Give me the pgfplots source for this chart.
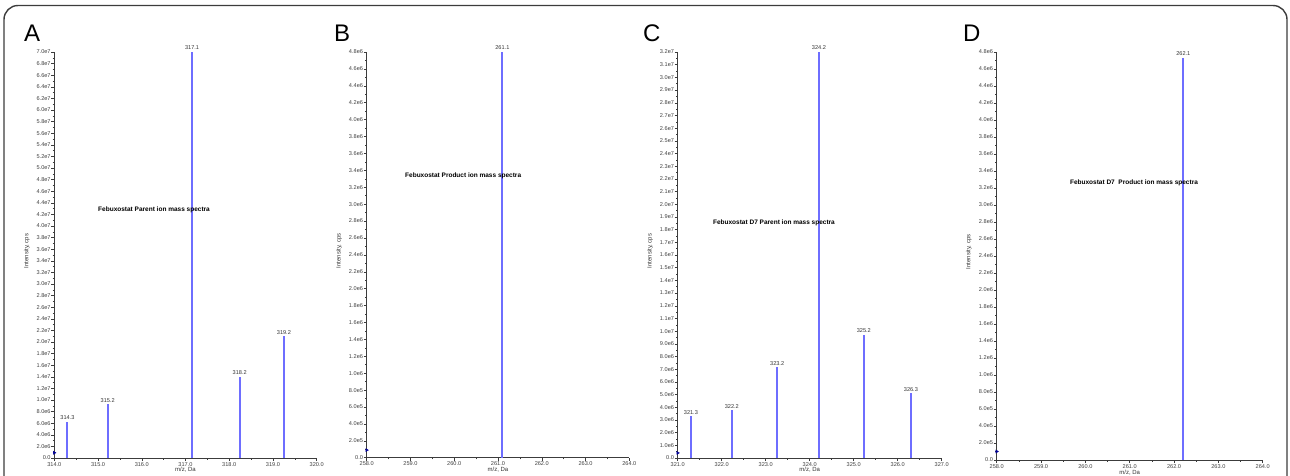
\documentclass[border=0pt]{standalone}
\usepackage{fontspec}
\setmainfont{Liberation Sans}
\usepackage{pgfplots}
\pgfplotsset{compat=1.18}
\definecolor{peak}{RGB}{110,110,255}
\definecolor{axc}{RGB}{60,60,60}
\pgfplotsset{
  ms/.style={
    scale only axis,
    axis lines=left,
    axis line style={-, axc, line width=1pt},
    every tick/.style={axc, line width=0.5pt},
    major tick length=3pt, minor tick length=1.6pt,
    tick align=outside,
    xtick pos=bottom, ytick pos=left,
    minor x tick num=1, minor y tick num=1,
    ymin=0,
    clip=false,
    tick label style={font=\fontsize{5.6}{6}\selectfont, text=black!75},
    yticklabel style={inner sep=0.5pt},
    xticklabel style={inner sep=1pt},
    label style={font=\fontsize{6}{7}\selectfont, text=black!80},
    xlabel={m/z, Da},
    ylabel={Intensity, cps},
    xlabel style={at={(axis description cs:0.5,-0.03)}, anchor=center},
    ylabel style={at={(axis description cs:-0.105,0.51)}, anchor=center},
  },
  pk/.style={ycomb, no marks, color=peak, line width=2pt,
    nodes near coords, point meta=explicit symbolic,
    every node near coord/.append style={font=\fontsize{5.6}{6}\selectfont, text=black!80, inner sep=1pt, anchor=south}},
  mk/.style={only marks, mark=triangle*, mark size=1.7pt,
    mark options={rotate=-90, fill=blue!60!black, draw=blue!60!black}},
}
\tikzset{ttl/.style={anchor=west, font=\fontsize{6.5}{7}\selectfont\bfseries, inner sep=0pt}}
\begin{document}
\begin{tikzpicture}[x=1pt,y=1pt]
\useasboundingbox (0,0) rectangle (1290,475);
\draw[axc, line width=1.4pt, rounded corners=14pt] (4,-40) rectangle (1287,469.5);
\node[anchor=base west, font=\fontsize{24}{24}\selectfont, inner sep=0] at (24,433) {A};
\node[anchor=base west, font=\fontsize{24}{24}\selectfont, inner sep=0] at (334,433) {B};
\node[anchor=base west, font=\fontsize{24}{24}\selectfont, inner sep=0] at (643,433) {C};
\node[anchor=base west, font=\fontsize{24}{24}\selectfont, inner sep=0] at (963,433) {D};

% Panel A
\begin{axis}[ms, at={(54.3pt,17pt)}, anchor=south west, width=262.4pt, height=406pt,
  xmin=314, xmax=320, xtick={314,315,316,317,318,319,320},
  xticklabels={314.0,315.0,316.0,317.0,318.0,319.0,320.0},
  ymax=70, ytick={0,2,...,70},
  yticklabels={0.0,2.0e6,4.0e6,6.0e6,8.0e6,1.0e7,1.2e7,1.4e7,1.6e7,1.8e7,2.0e7,2.2e7,2.4e7,2.6e7,2.8e7,3.0e7,3.2e7,3.4e7,3.6e7,3.8e7,4.0e7,4.2e7,4.4e7,4.6e7,4.8e7,5.0e7,5.2e7,5.4e7,5.6e7,5.8e7,6.0e7,6.2e7,6.4e7,6.6e7,6.8e7,7.0e7}]
\addplot[pk] coordinates {(314.3,6.2)[314.3] (315.22,9.3)[315.2] (317.15,70)[317.1] (318.24,14.0)[318.2] (319.25,21.0)[319.2]};
\addplot[mk] coordinates {(314.0,0.9)};
\node[ttl] at (axis cs:315.0,42.8) {Febuxostat Parent ion mass spectra};
\end{axis}

% Panel B
\begin{axis}[ms, at={(366.7pt,17.3pt)}, anchor=south west, width=262.6pt, height=405.7pt,
  xmin=258, xmax=264, xtick={258,259,260,261,262,263,264},
  xticklabels={258.0,259.0,260.0,261.0,262.0,263.0,264.0},
  ymax=48, ytick={0,2,...,48},
  yticklabels={0.0,2.0e5,4.0e5,6.0e5,8.0e5,1.0e6,1.2e6,1.4e6,1.6e6,1.8e6,2.0e6,2.2e6,2.4e6,2.6e6,2.8e6,3.0e6,3.2e6,3.4e6,3.6e6,3.8e6,4.0e6,4.2e6,4.4e6,4.6e6,4.8e6}]
\addplot[pk] coordinates {(261.1,48)[261.1]};
\addplot[mk] coordinates {(258.0,0.9)};
\node[ttl] at (axis cs:258.875,33.3) {Febuxostat Product ion mass spectra};
\end{axis}

% Panel C
\begin{axis}[ms, at={(677.7pt,17pt)}, anchor=south west, width=264pt, height=406pt,
  xmin=321, xmax=327, xtick={321,322,323,324,325,326,327},
  xticklabels={321.0,322.0,323.0,324.0,325.0,326.0,327.0},
  ymax=32, ytick={0,1,...,32},
  yticklabels={0.0,1.0e6,2.0e6,3.0e6,4.0e6,5.0e6,6.0e6,7.0e6,8.0e6,9.0e6,1.0e7,1.1e7,1.2e7,1.3e7,1.4e7,1.5e7,1.6e7,1.7e7,1.8e7,1.9e7,2.0e7,2.1e7,2.2e7,2.3e7,2.4e7,2.5e7,2.6e7,2.7e7,2.8e7,2.9e7,3.0e7,3.1e7,3.2e7}]
\addplot[pk] coordinates {(321.3,3.3)[321.3] (322.23,3.75)[322.2] (323.26,7.15)[323.2] (324.21,32)[324.2] (325.23,9.7)[325.2] (326.3,5.1)[326.3]};
\addplot[mk] coordinates {(321.0,0.4)};
\node[ttl] at (axis cs:321.8,18.5) {Febuxostat D7 Parent ion mass spectra};
\end{axis}

% Panel D
\begin{axis}[ms, at={(996.7pt,15pt)}, anchor=south west, width=266pt, height=408pt,
  xmin=258, xmax=264, xtick={258,259,260,261,262,263,264},
  xticklabels={258.0,259.0,260.0,261.0,262.0,263.0,264.0},
  ymax=48, ytick={0,2,...,48},
  yticklabels={0.0,2.0e5,4.0e5,6.0e5,8.0e5,1.0e6,1.2e6,1.4e6,1.6e6,1.8e6,2.0e6,2.2e6,2.4e6,2.6e6,2.8e6,3.0e6,3.2e6,3.4e6,3.6e6,3.8e6,4.0e6,4.2e6,4.4e6,4.6e6,4.8e6}]
\addplot[pk] coordinates {(262.21,47.3)[262.1]};
\addplot[mk] coordinates {(258.0,1.0)};
\node[ttl] at (axis cs:259.65,32.6) {Febuxostat D7\ \ Product ion mass spectra};
\end{axis}
\end{tikzpicture}
\end{document}
